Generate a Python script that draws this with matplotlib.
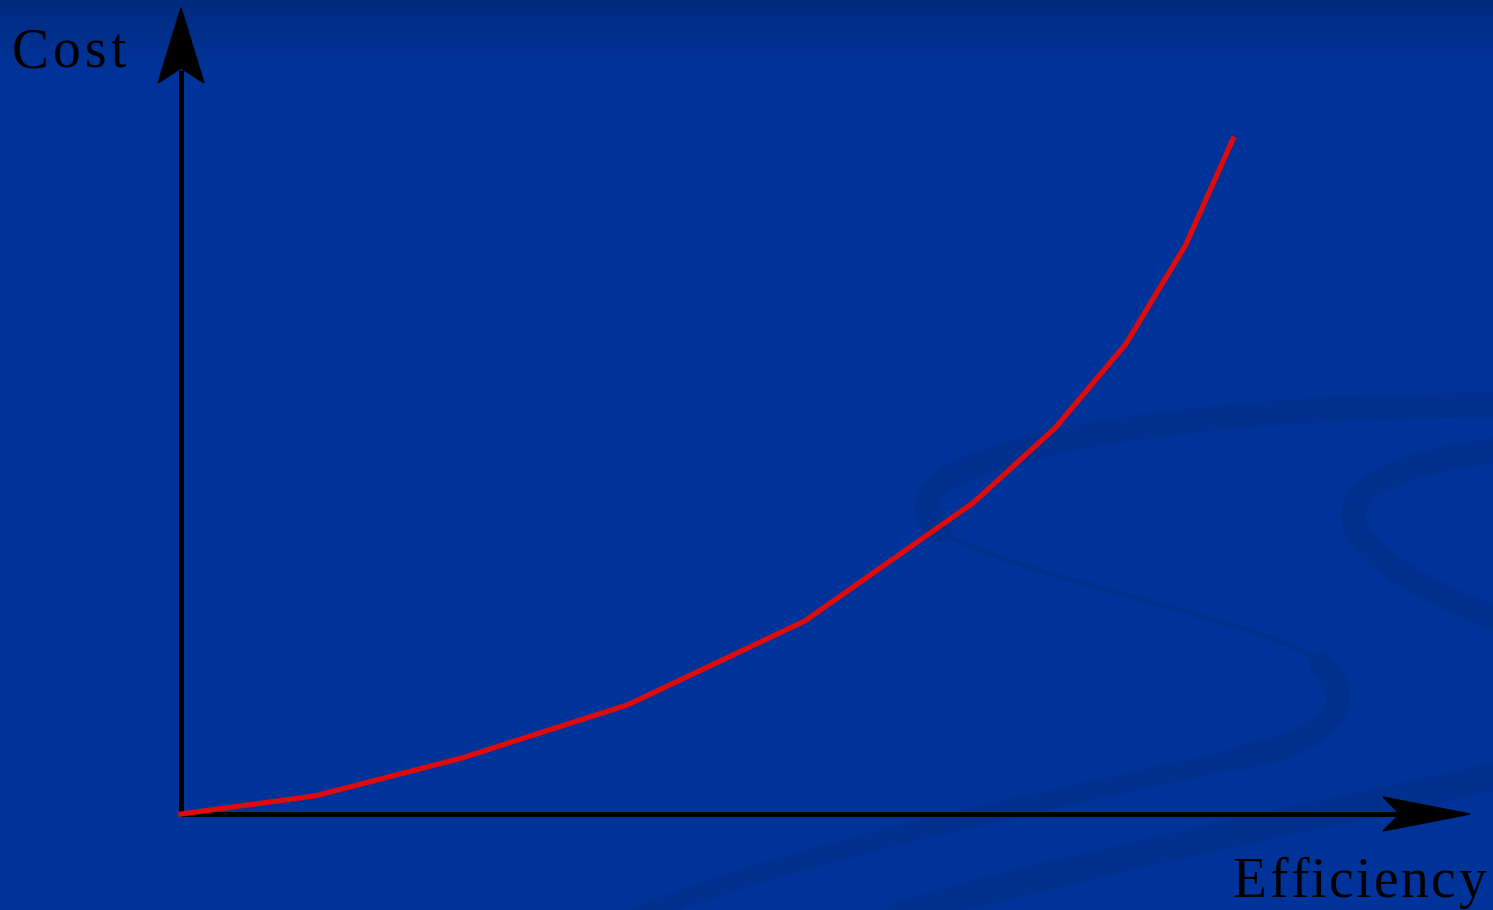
import numpy as np
import matplotlib
matplotlib.use("Agg")
import matplotlib.pyplot as plt
from matplotlib.path import Path
from matplotlib.patches import PathPatch, Polygon
from matplotlib.colors import LinearSegmentedColormap
import matplotlib.transforms as mtransforms

# Data (arbitrary units)
efficiency = [0.0, 1.28, 2.67, 4.25, 5.93, 7.53, 8.31, 8.98, 9.55, 10.0]
cost = [0.0, 0.27, 0.83, 1.62, 2.86, 4.61, 5.72, 6.96, 8.43, 10.0]
x_label = "Efficiency"
y_label = "Cost"

W, H, DPI = 1493, 910, 100
BG = "#003399"
SWIRL = "#00308e"

fig = plt.figure(figsize=(W / DPI, H / DPI), dpi=DPI)
fig.patch.set_facecolor(BG)

# background axes (pixel coordinates, y downward) for gradient + swirls
bg = fig.add_axes([0, 0, 1, 1])
bg.set_xlim(0, W)
bg.set_ylim(H, 0)
bg.axis("off")
bg.set_facecolor(BG)
grad = np.linspace(0, 1, 256).reshape(-1, 1)
cm = LinearSegmentedColormap.from_list("g", ["#002a7e", BG])
bg.imshow(grad, extent=[0, W, 70, 0], cmap=cm, aspect="auto", zorder=0)

def stroke(verts, codes, lw):
    p = Path(verts, codes)
    bg.add_patch(PathPatch(p, facecolor="none", edgecolor=SWIRL, lw=lw,
                           capstyle="round", zorder=1))

C4 = Path.CURVE4
M = Path.MOVETO
stroke([(1500, 405), (1150, 405), (860, 460), (940, 530)], [M, C4, C4, C4], 18)
stroke([(940, 530), (1000, 575), (1290, 625), (1322, 665)], [M, C4, C4, C4], 4)
stroke([(1322, 665), (1360, 705), (1330, 740), (1240, 758)], [M, C4, C4, C4], 18)
stroke([(1240, 758), (1050, 800), (800, 850), (640, 915)], [M, C4, C4, C4], 14)
stroke([(1500, 450), (1320, 470), (1290, 540), (1500, 620)], [M, C4, C4, C4], 18)
stroke([(1500, 775), (1300, 820), (1050, 870), (900, 915)], [M, C4, C4, C4], 20)

# main axes: origin at pixel (181, 814)
ox, oy = 181, 814
sx, sy = 105.2, 67.5
ax = fig.add_axes([0, 0, 1, 1])
ax.patch.set_alpha(0)
ax.set_xlim(-ox / sx, (W - ox) / sx)
ax.set_ylim(-(H - oy) / sy, oy / sy)
ax.axis("off")

# axes lines
xtip = (1400 - ox) / sx
ytip = (oy - 70) / sy
ax.plot([0, xtip], [0, 0], color="black", lw=3.6, solid_capstyle="butt", zorder=3)
ax.plot([0, 0], [0, ytip], color="black", lw=3.6, solid_capstyle="butt", zorder=3)

# arrow heads (stealth) in pixel offsets relative to tip
def head(tip_data, pts):
    tx, ty = ax.transData.transform(tip_data)
    tr = mtransforms.Affine2D().translate(tx, ty)
    ax.add_patch(Polygon(pts, closed=True, facecolor="black", edgecolor="black",
                         transform=tr, zorder=4))

head(((1470 - ox) / sx, 0), [(0, 0), (-87, 17), (-70, 0), (-87, -17)])
head((0, (oy - 8) / sy), [(0, 0), (-23, -75), (0, -60), (23, -75)])

# curve
ax.plot(efficiency, cost, color="#dd0b0b", lw=3.8, zorder=5,
        solid_joinstyle="miter")

# labels with letter tracking
fam = ["Liberation Serif", "DejaVu Serif"]
renderer = fig.canvas.get_renderer()

def tracked(text, x_px, y_px, size, track, align="left"):
    # measure total width
    widths = []
    for ch in text:
        t = fig.text(0, 0, ch, fontsize=size, family=fam)
        widths.append(t.get_window_extent(renderer).width)
        t.remove()
    total = sum(widths) + track * (len(text) - 1)
    x = x_px if align == "left" else x_px - total
    for ch, w in zip(text, widths):
        fig.text(x / W, 1 - y_px / H, ch, fontsize=size, family=fam,
                 color="black", ha="left", va="baseline")
        x += w + track

tracked(y_label, 12, 68, 40, 4, "left")
tracked(x_label, 1486, 897, 40, 2.5, "right")

fig.savefig("out.png", dpi=DPI, facecolor=BG)
